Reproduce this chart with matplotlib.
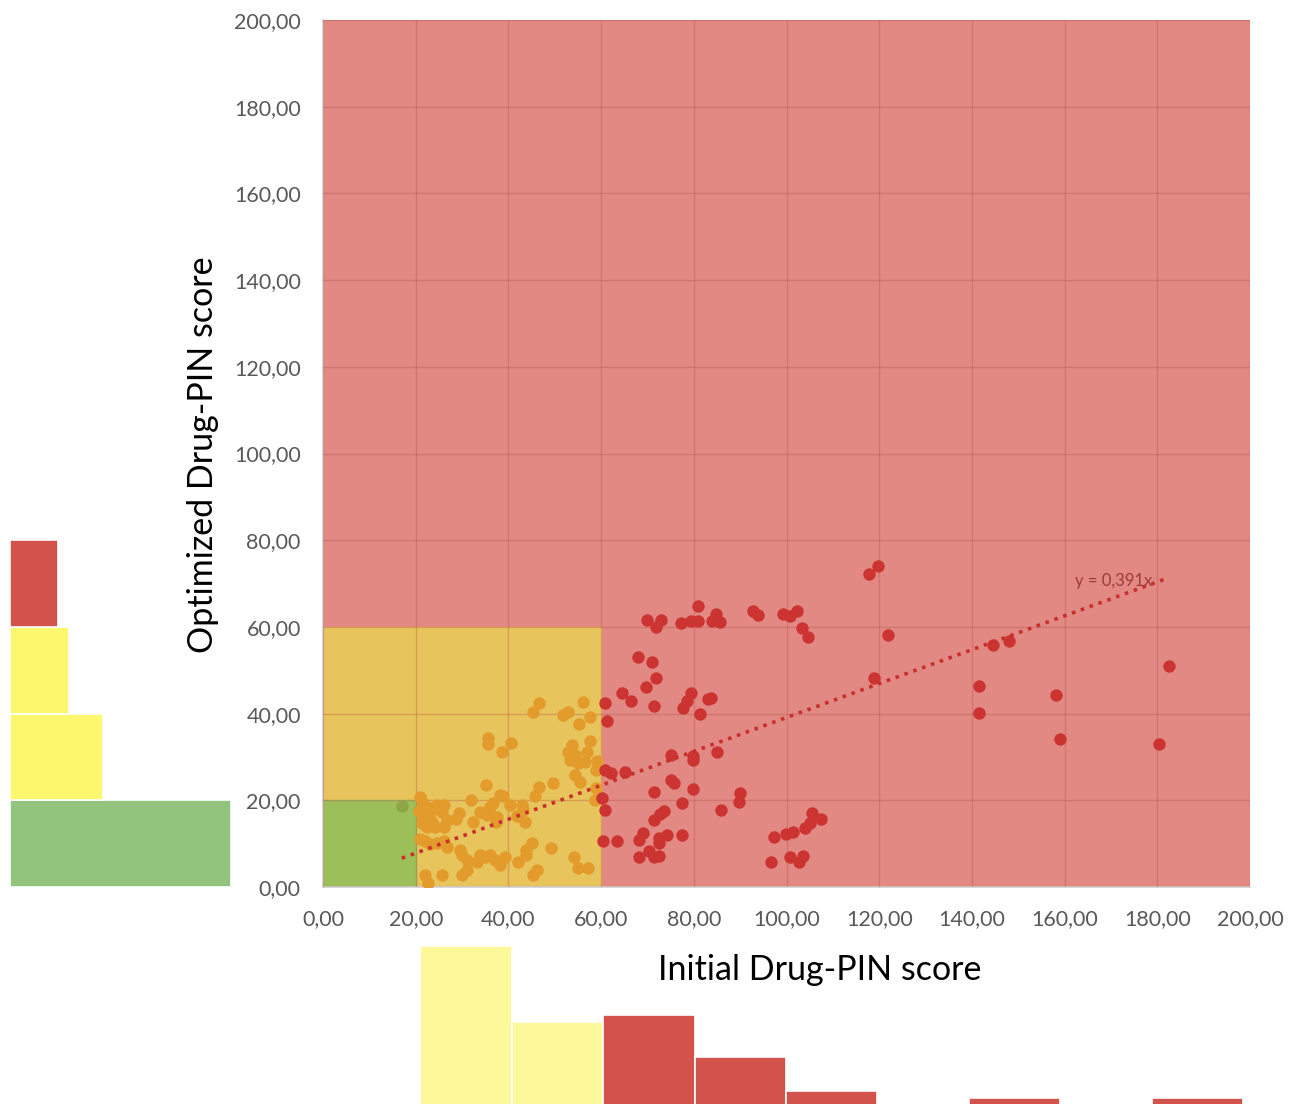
import matplotlib
matplotlib.use("Agg")
import matplotlib.pyplot as plt
from matplotlib.patches import Rectangle
from matplotlib.ticker import FuncFormatter, MultipleLocator
import numpy as np

plt.rcParams['font.family'] = ['Lato', 'DejaVu Sans']

# Patients whose optimized score stays under 60 (initial score < 60)
orange_x = [46.5, 45.2, 56.0, 51.7, 52.9, 57.5, 55.3, 35.7, 35.7, 40.5, 38.6,
            53.7, 52.9, 54.4, 53.3, 55.1, 56.5, 57.6, 57.0, 54.4, 55.4, 58.9,
            59.0, 58.7, 35.2, 46.7, 49.7, 45.7, 31.9, 38.2, 38.9, 36.0, 36.7,
            33.9, 35.3, 37.3, 37.5, 32.3, 40.3, 41.8, 43.6, 42.9, 43.2, 29.4,
            28.8, 20.9, 21.6, 21.3, 22.4, 23.1, 21.6, 23.5, 24.5, 25.6, 26.0,
            24.2, 26.0, 22.4, 21.3, 26.7, 22.0, 23.1, 24.5, 26.0, 26.7, 29.6,
            29.9, 31.0, 22.0, 22.7, 25.6, 29.9, 31.0, 33.2, 35.0, 36.0, 33.9,
            37.1, 38.2, 39.3, 42.1, 43.9, 45.0, 43.9, 45.4, 46.1, 49.1, 54.2,
            55.1, 57.2, 59.1, 20.8, 21.0]
orange_y = [42.4, 40.4, 42.7, 39.7, 40.4, 39.3, 37.7, 34.3, 33.1, 33.3, 31.2,
            32.8, 31.2, 30.4, 29.3, 28.5, 28.9, 33.7, 31.2, 25.8, 24.3, 27.1,
            22.8, 20.1, 23.5, 23.1, 23.9, 21.0, 20.1, 21.2, 21.0, 18.5, 19.3,
            17.3, 16.6, 15.1, 16.2, 15.1, 18.9, 16.4, 15.1, 18.9, 17.8, 17.0,
            15.8, 20.8, 19.3, 17.8, 18.5, 17.0, 15.8, 15.1, 18.9, 17.3, 18.9,
            13.9, 13.9, 13.9, 14.7, 15.5, 10.5, 9.9, 10.1, 10.5, 9.3, 8.5,
            7.4, 6.2, 2.8, 0.9, 2.8, 2.8, 3.9, 5.8, 7.0, 7.4, 7.4,
            6.2, 5.1, 7.0, 5.8, 7.4, 10.1, 8.5, 2.8, 3.9, 8.9, 7.0,
            4.3, 4.3, 29.0, 17.5, 11.0]

# Single patient with an initial score below 20
low_x = [17.0]
low_y = [18.6]

# Patients with an initial score of 60 or more
red_x = [80.8, 70.0, 71.8, 72.9, 77.2, 79.5, 80.8, 83.9, 84.7, 85.7, 92.8,
         93.8, 99.3, 100.8, 102.2, 103.4, 104.7, 67.9, 70.9, 71.8, 69.6, 64.6,
         66.5, 71.5, 60.8, 61.3, 79.3, 78.5, 77.7, 83.0, 83.7, 81.3, 75.1,
         79.8, 79.9, 85.1, 60.8, 62.1, 65.2, 60.1, 60.8, 75.1, 75.7, 71.5,
         79.9, 77.5, 85.9, 90.0, 89.7, 71.5, 72.7, 73.6, 77.5, 60.5, 63.4,
         68.2, 69.1, 72.5, 74.2, 72.5, 68.2, 70.3, 71.5, 72.5, 97.4, 99.8,
         101.5, 104.0, 105.1, 105.6, 107.4, 96.7, 100.8, 102.7, 103.6, 117.9,
         119.8, 121.8, 118.9, 144.5, 147.9, 141.6, 141.5, 158.1, 159.0, 182.6,
         180.4]
red_y = [64.8, 61.6, 60.0, 61.6, 61.0, 61.4, 61.4, 61.4, 63.0, 61.2, 63.7,
         62.7, 63.0, 62.5, 63.7, 59.7, 57.7, 53.0, 52.0, 48.1, 46.2, 44.7,
         42.8, 41.8, 42.4, 38.3, 44.8, 43.0, 41.2, 43.3, 43.7, 39.8, 30.4,
         30.2, 29.3, 31.2, 27.0, 26.2, 26.6, 20.5, 17.8, 24.7, 23.9, 22.0,
         22.5, 19.4, 17.8, 21.6, 19.7, 15.5, 16.8, 17.6, 12.0, 10.5, 10.5,
         10.8, 12.4, 11.2, 12.0, 10.1, 7.0, 8.4, 7.0, 7.2, 11.6, 12.2,
         12.6, 13.7, 14.7, 17.1, 15.8, 5.8, 7.0, 5.8, 7.2, 72.2,
         74.0, 58.1, 48.2, 55.8, 56.8, 46.4, 40.2, 44.3, 34.1, 51.0,
         33.1]

# Linear trend through the origin
slope = 0.391
trend_start, trend_end = 17.0, 182.0
trend_label = "y = 0,391x"

# Distribution of optimized scores (bins of 20)
opt_bins = [0, 20, 40, 60]
opt_counts = [64, 27, 17, 14]
opt_colors = ['#93c47d', '#fdf76d', '#fdf76d', '#d4524c']

# Distribution of initial scores (bins of 20)
init_bins = [20, 40, 60, 80, 100, 120, 140, 160, 180]
init_counts = [46, 24, 26, 14, 4, 0, 2, 0, 2]
init_colors = ['#fdf99a', '#fdf99a', '#d4524c', '#d4524c', '#d4524c',
               '#d4524c', '#d4524c', '#d4524c', '#d4524c']

W, H = 1298, 1104
fig = plt.figure(figsize=(W / 100, H / 100), dpi=100)

def px_axes(x0, y0, x1, y1):
    return fig.add_axes([x0 / W, 1 - y1 / H, (x1 - x0) / W, (y1 - y0) / H])

comma = FuncFormatter(lambda v, p: f"{v:.2f}".replace('.', ','))

# Main scatter
ax = px_axes(323, 20, 1250, 887)
ax.set_xlim(0, 200)
ax.set_ylim(0, 200)
ax.add_patch(Rectangle((0, 0), 200, 200, color='#e38984', zorder=0))
ax.add_patch(Rectangle((0, 0), 60, 60, color='#e8c45c', zorder=0.5))
ax.add_patch(Rectangle((0, 0), 20, 20, color='#9cbf5a', zorder=0.7))
ax.xaxis.set_major_locator(MultipleLocator(20))
ax.yaxis.set_major_locator(MultipleLocator(20))
ax.grid(True, color='#b04a48', alpha=0.32, linewidth=1.0, zorder=1)
ax.set_axisbelow(False)
for s in ['top', 'right']:
    ax.spines[s].set_visible(False)
for s in ['left', 'bottom']:
    ax.spines[s].set_color('#d0d0d0')
    ax.spines[s].set_linewidth(1.2)
ax.tick_params(length=0, labelsize=15.5, labelcolor='#595959')
ax.tick_params(axis='y', pad=16)
ax.tick_params(axis='x', pad=16)
ax.xaxis.set_major_formatter(comma)
ax.yaxis.set_major_formatter(comma)

ax.scatter(orange_x, orange_y, s=80, color='#e39b2c', linewidths=0, zorder=3)
ax.scatter(low_x, low_y, s=80, color='#8ea548', linewidths=0, zorder=3)
ax.scatter(red_x, red_y, s=80, color='#cc3431', linewidths=0, zorder=3)

tx = np.array([trend_start, trend_end])
ax.plot(tx, slope * tx, linestyle=(0, (1, 1.6)), color='#c8302c',
        linewidth=2.6, zorder=4)
ax.text(179, 70.5, trend_label, fontsize=12, color='#9c3b38',
        ha='right', va='center', zorder=5)

fig.text(203 / W, 1 - 455 / H, "Optimized Drug-PIN score", rotation=90,
         ha='center', va='center', fontsize=24.5, color='black')
fig.text(820 / W, 1 - 970 / H, "Initial Drug-PIN score",
         ha='center', va='center', fontsize=24.5, color='black')

# Left histogram: optimized scores
scale = 221 / 64  # pixels per patient
axl = px_axes(10, 20, 300, 887)
axl.set_ylim(0, 200)
axl.set_xlim(0, 290 / scale)
axl.barh(opt_bins, opt_counts, height=20, align='edge', color=opt_colors,
         edgecolor='white', linewidth=1.2)
axl.axis('off')

# Bottom histogram: initial scores, baseline runs off the lower edge
axb = px_axes(329, 935, 1243, 1104)
axb.set_xlim(0, 200)
axb.set_ylim(0.27, 0.27 + 169 / scale)
axb.bar(init_bins, init_counts, width=20, align='edge', color=init_colors,
        edgecolor='white', linewidth=1.2)
axb.axis('off')

fig.savefig("out.png", dpi=100)
